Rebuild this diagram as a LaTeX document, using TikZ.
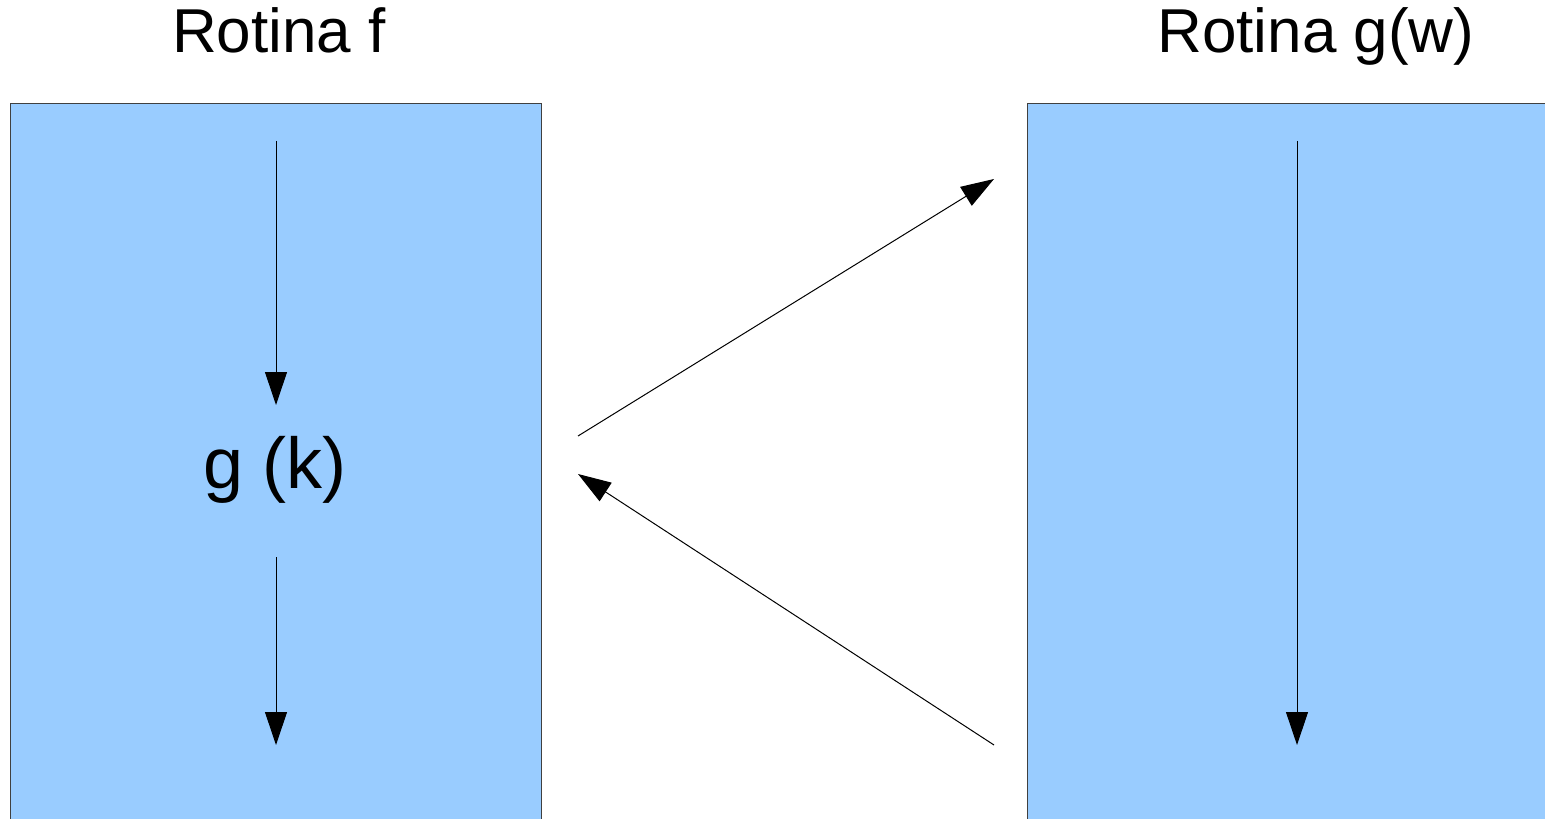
\documentclass[tikz,border=0pt]{standalone}
\usepackage{fontspec}
\setmainfont{Liberation Sans}
\usetikzlibrary{arrows.meta,positioning}

\begin{document}
\begin{tikzpicture}[
  x=0.5pt, y=-0.5pt,
  >={Triangle[length=16.5pt,width=11pt]},
  panel/.style ={draw=black!75,line width=0.7pt,fill=rotinablue,rectangle,
                 anchor=north west,inner sep=0pt},
  title/.style ={font=\fontsize{31pt}{36pt}\selectfont,anchor=base},
  call/.style  ={font=\fontsize{36pt}{43pt}\selectfont,anchor=base},
  flow/.style  ={->,line width=0.5pt},
]
\definecolor{rotinablue}{HTML}{99CCFF}

\useasboundingbox (0,0) rectangle (1545,818);
\clip (0,0) rectangle (1545,818);

%% =============================================
%% Routine f on the left
%% =============================================
\node[panel,minimum width=265.5pt,minimum height=420pt] (rotf) at (10,103) {};
\node[title] (tf) at (279,53) {Rotina f};
\node[call] (gk) at (275,488) {g (k)};

% flow inside f
\coordinate (f1) at (276,141);
\coordinate (f2) at (276,405);
\coordinate (f3) at (276,557);
\coordinate (f4) at (276,745);

%% =============================================
%% Routine g on the right
%% =============================================
\node[panel,minimum width=280pt,minimum height=420pt] (rotg) at (1027,103) {};
\node[title] (tg) at (1316,53) {Rotina g(w)};

% flow inside g
\coordinate (g1) at (1297,141);
\coordinate (g2) at (1297,745);

%% =============================================
%% Call and return
%% =============================================
\coordinate (callfrom) at (578,436);
\coordinate (callto)   at (994,179);
\coordinate (retfrom)  at (994,745);
\coordinate (retto)    at (578,474);

%% =============================================
%% Connections
%% =============================================
\draw[flow] (f1) -- (f2);
\draw[flow] (f3) -- (f4);
\draw[flow] (g1) -- (g2);
\draw[flow] (callfrom) -- (callto);
\draw[flow] (retfrom)  -- (retto);

\end{tikzpicture}
\end{document}
